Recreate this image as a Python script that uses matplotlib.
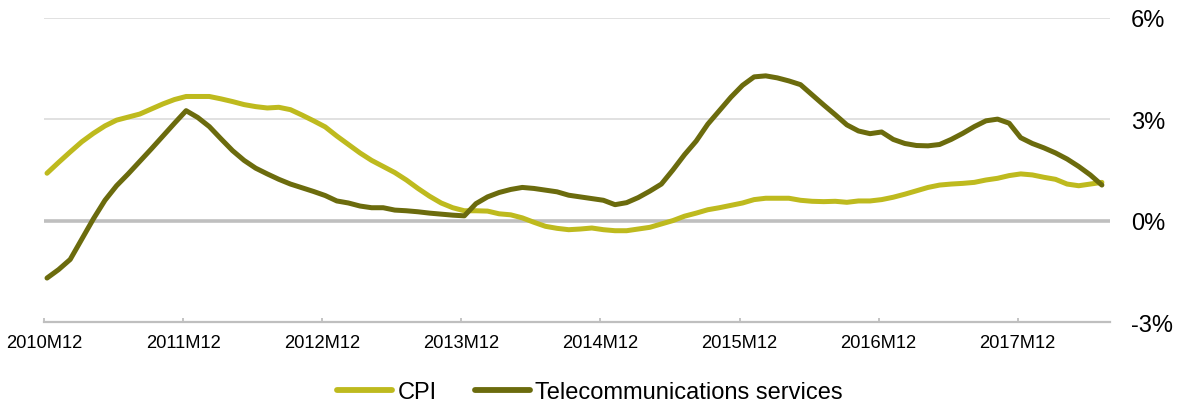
import matplotlib
matplotlib.use("Agg")
import matplotlib.pyplot as plt

plt.rcParams['font.family'] = ['Liberation Sans', 'DejaVu Sans']

tick_labels = ['2010M12', '2011M12', '2012M12', '2013M12',
               '2014M12', '2015M12', '2016M12', '2017M12']
ytick_vals = [-3, 0, 3, 6]
ytick_labels = ['-3%', '0%', '3%', '6%']

cpi = [1.40, 1.72, 2.03, 2.33, 2.58, 2.80, 2.97, 3.06, 3.15, 3.30,
       3.45, 3.58, 3.67, 3.67, 3.67, 3.60, 3.52, 3.43, 3.37, 3.33,
       3.35, 3.28, 3.12, 2.95, 2.77, 2.50, 2.25, 2.00, 1.78, 1.60,
       1.42, 1.20, 0.95, 0.72, 0.52, 0.38, 0.29, 0.29, 0.28, 0.20,
       0.17, 0.08, -0.05, -0.17, -0.23, -0.27, -0.25, -0.22, -0.27, -0.30,
       -0.30, -0.25, -0.20, -0.10, 0.00, 0.13, 0.22, 0.32, 0.38, 0.45,
       0.52, 0.62, 0.66, 0.66, 0.66, 0.60, 0.57, 0.56, 0.57, 0.54,
       0.58, 0.58, 0.62, 0.69, 0.78, 0.88, 0.98, 1.05, 1.08, 1.10,
       1.13, 1.20, 1.25, 1.33, 1.38, 1.35, 1.28, 1.22, 1.08, 1.03,
       1.08, 1.13]

telecom = [-1.70, -1.45, -1.15, -0.55, 0.05, 0.60, 1.03, 1.38, 1.75, 2.12,
           2.50, 2.88, 3.25, 3.05, 2.78, 2.42, 2.07, 1.78, 1.55, 1.38,
           1.22, 1.08, 0.97, 0.86, 0.74, 0.58, 0.52, 0.43, 0.38, 0.38,
           0.31, 0.29, 0.26, 0.22, 0.19, 0.16, 0.14, 0.50, 0.70, 0.83,
           0.92, 0.98, 0.95, 0.90, 0.85, 0.75, 0.70, 0.65, 0.60, 0.47,
           0.53, 0.68, 0.87, 1.08, 1.50, 1.95, 2.35, 2.85, 3.25, 3.65,
           4.00, 4.25, 4.28, 4.22, 4.13, 4.02, 3.72, 3.42, 3.13, 2.83,
           2.65, 2.57, 2.62, 2.40, 2.28, 2.22, 2.21, 2.25, 2.40, 2.58,
           2.78, 2.95, 3.00, 2.88, 2.45, 2.28, 2.15, 2.00, 1.82, 1.60,
           1.35, 1.05]

CPI_COLOR = '#BEBA1E'
TEL_COLOR = '#6B6B0D'

fig = plt.figure(figsize=(11.85, 4.10), dpi=100)
ax = fig.add_axes([44/1185, 1-323/410, (1110-44)/1185, (323-18.7)/410])

x = list(range(len(cpi)))
off = -0.26

for v in (3, 6):
    ax.axhline(v, color='#D9D9D9', lw=1.1, zorder=1)
ax.axhline(0, color='#BFBFBF', lw=2.6, zorder=1)

ax.plot(x, cpi, color=CPI_COLOR, lw=3.6, solid_capstyle='round',
        solid_joinstyle='round', label='CPI', zorder=3)
ax.plot(x, telecom, color=TEL_COLOR, lw=3.6, solid_capstyle='round',
        solid_joinstyle='round', label='Telecommunications services', zorder=4)

ax.set_xlim(off, 91.7)
ax.set_ylim(-3, 6)

ax.set_xticks([12*k + off for k in range(len(tick_labels))])
ax.set_xticklabels(tick_labels, fontsize=13.2)
ax.tick_params(axis='x', direction='in', length=3, width=1.3,
               color='#BFBFBF', pad=9)

ax.yaxis.tick_right()
ax.set_yticks(ytick_vals)
ax.set_yticklabels(ytick_labels, fontsize=17)
ax.tick_params(axis='y', length=0, pad=15)

for s in ('top', 'left', 'right'):
    ax.spines[s].set_visible(False)
ax.spines['bottom'].set_color('#BFBFBF')
ax.spines['bottom'].set_linewidth(1.6)

leg = fig.legend(loc='center', bbox_to_anchor=(590/1185, 1-393/410),
                 ncol=2, frameon=False, fontsize=17, handlelength=2.33,
                 handletextpad=0.21, columnspacing=1.64)
for h in leg.get_lines():
    h.set_linewidth(4.2)
    h.set_solid_capstyle('round')

fig.savefig('out.png', dpi=100)
